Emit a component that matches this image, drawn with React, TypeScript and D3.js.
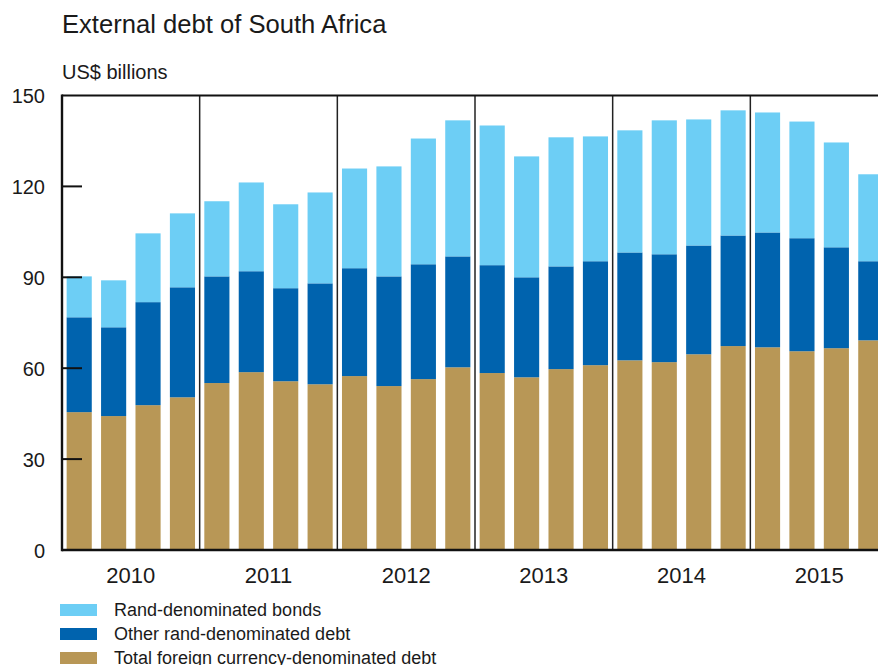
import React from "react";
import * as d3 from "d3";

const years = ["2010", "2011", "2012", "2013", "2014", "2015"];
const quarterLabels = years.flatMap((y) => ["Q1", "Q2", "Q3", "Q4"].map((q) => `${y}${q}`));

const foreignCurrencyDebt = [45.5, 44.2, 47.8, 50.4, 55.1, 58.7, 55.7, 54.7, 57.4, 54.1, 56.4, 60.3, 58.4, 57.0, 59.7, 61.0, 62.6, 62.0, 64.6, 67.3, 66.9, 65.6, 66.6, 69.2];
const otherRandDebt = [31.3, 29.3, 34.0, 36.3, 35.2, 33.3, 30.7, 33.3, 35.6, 36.2, 37.9, 36.6, 35.6, 33.0, 33.9, 34.3, 35.6, 35.6, 35.9, 36.5, 37.9, 37.3, 33.3, 26.1];
const randBonds = [13.5, 15.5, 22.7, 24.4, 24.8, 29.3, 27.7, 30.0, 32.9, 36.3, 41.5, 44.9, 46.1, 39.9, 42.6, 41.2, 40.3, 44.2, 41.6, 41.3, 39.6, 38.5, 34.6, 28.7];

const yTicks = [0, 30, 60, 90, 120, 150];

const seriesKeys = ["foreign", "other", "bonds"];
const seriesNames: Record<string, string> = {
  bonds: "Rand-denominated bonds",
  other: "Other rand-denominated debt",
  foreign: "Total foreign currency-denominated debt",
};
const colors: Record<string, string> = {
  bonds: "#6dcef5",
  other: "#0063ae",
  foreign: "#b89756",
};
const legendOrder = ["bonds", "other", "foreign"];

const W = 878;
const H = 665;
const left = 62;
const right = 888;
const top = 95.5;
const bottom = 550;
const font = "'Liberation Sans', Arial, Helvetica, sans-serif";
const textColor = "#1a1a1a";

export default function App() {
  const rows = quarterLabels.map((q, i) => ({
    q,
    foreign: foreignCurrencyDebt[i],
    other: otherRandDebt[i],
    bonds: randBonds[i],
  }));
  const stacked = d3.stack<any>().keys(seriesKeys)(rows);

  const x = d3.scaleBand<string>().domain(quarterLabels).range([left, right]).paddingInner(0.27).paddingOuter(0.135);
  const y = d3.scaleLinear().domain([0, 150]).range([bottom, top]);
  const step = x.step();

  const yearSeparators = years.slice(1).map((yr) => {
    const q = `${yr}Q1`;
    return (x(q) as number) - (step - x.bandwidth()) / 2;
  });
  const yearCenters = years.map((yr) => {
    const a = x(`${yr}Q1`) as number;
    const b = (x(`${yr}Q4`) as number) + x.bandwidth();
    return (a + b) / 2;
  });

  return (
    <svg width={W} height={H} style={{ position: "absolute", left: 0, top: 0, display: "block", background: "#fff" }} fontFamily={font}>
      <text x={62} y={33} fontSize={25.6} fill={textColor}>External debt of South Africa</text>
      <text x={62} y={79} fontSize={20} fill={textColor}>US$ billions</text>

      {stacked.map((s) => (
        <g key={s.key} fill={colors[s.key]}>
          {s.map((d, i) => (
            <rect key={i} x={x(d.data.q)} y={y(d[1])} width={x.bandwidth()} height={y(d[0]) - y(d[1])} />
          ))}
        </g>
      ))}

      {yearSeparators.map((sx, i) => (
        <line key={i} x1={sx} x2={sx} y1={top} y2={bottom} stroke="#222" strokeWidth={1.5} />
      ))}

      <line x1={left} x2={W} y1={top} y2={top} stroke="#111" strokeWidth={2.2} />
      <line x1={left} x2={W} y1={bottom} y2={bottom} stroke="#111" strokeWidth={2.6} />
      <line x1={left} x2={left} y1={top - 1} y2={bottom + 1.3} stroke="#111" strokeWidth={2.4} />

      {yTicks.map((t) => (
        <g key={t}>
          {t > 0 && t < 150 && <line x1={left} x2={left + 20} y1={y(t)} y2={y(t)} stroke="#111" strokeWidth={2} />}
          <text x={45} y={y(t) + 7.5} fontSize={20} textAnchor="end" fill={textColor}>{t}</text>
        </g>
      ))}

      {years.map((yr, i) => (
        <text key={yr} x={yearCenters[i]} y={583} fontSize={22} textAnchor="middle" fill={textColor}>{yr}</text>
      ))}

      {legendOrder.map((k, i) => (
        <g key={k} transform={`translate(60, ${604 + i * 24})`}>
          <rect x={0} y={0} width={37} height={12} fill={colors[k]} />
          <text x={54} y={12} fontSize={18} fill={textColor}>{seriesNames[k]}</text>
        </g>
      ))}
    </svg>
  );
}
